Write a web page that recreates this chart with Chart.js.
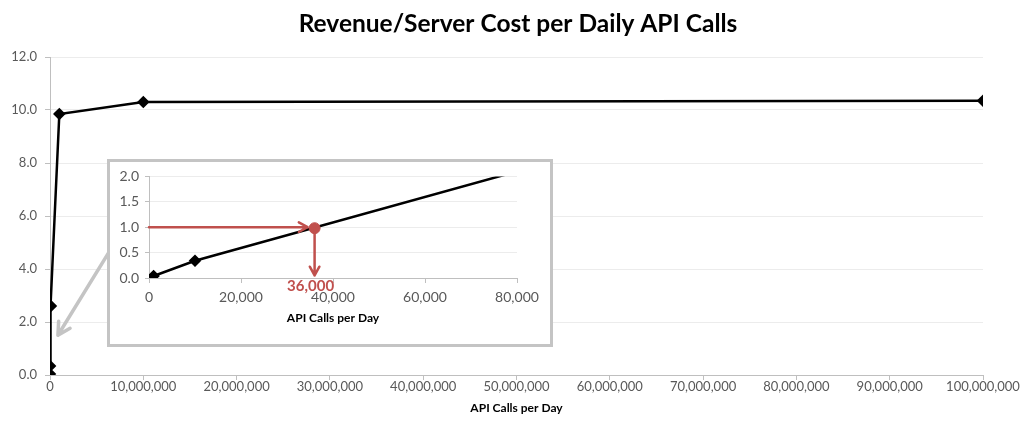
<!DOCTYPE html>
<html>
<head>
<meta charset="utf-8">
<script src="https://cdn.jsdelivr.net/npm/chart.js@4.4.0/dist/chart.umd.min.js"></script>
<style>
html, body { margin: 0; padding: 0; background: #fff; }
#wrap { position: relative; width: 1022px; height: 425px; }
#mainChart { position: absolute; left: 0; top: 0; }
#insetBox { position: absolute; left: 107px; top: 159px; width: 440px; height: 182px;
            border: 3px solid #c4c4c4; background: #fff; }
</style>
</head>
<body>
<div id="wrap">
  <canvas id="mainChart" width="1022" height="425"></canvas>
  <div id="insetBox"><canvas id="insetChart" width="440" height="182"></canvas></div>
</div>
<script>
// --- Data ---
const apiCalls = [1000, 10000, 100000, 1000000, 10000000, 100000000];
const revenueCostRatio = [0.04, 0.34, 2.6, 9.85, 10.3, 10.35];

const mainXTicks = [0, 10000000, 20000000, 30000000, 40000000, 50000000, 60000000, 70000000, 80000000, 90000000, 100000000];
const mainYTicks = [0, 2, 4, 6, 8, 10, 12];
const insetXTicks = [0, 20000, 40000, 60000, 80000];
const insetYTicks = [0, 0.5, 1, 1.5, 2];

const breakEvenCalls = [36000];
const breakEvenRatio = [0.98];
const breakEvenLabel = '36,000';

const chartTitle = 'Revenue/Server Cost per Daily API Calls';
const xTitle = 'API Calls per Day';

// --- Styles ---
const FONT = 'Lato, "Open Sans", sans-serif';
const TICK_COLOR = '#595959';
const AXIS_COLOR = '#bfbfbf';
const GRID_COLOR = '#ececec';
const RED = '#c0504d';

const points = apiCalls.map((x, i) => ({ x: x, y: revenueCostRatio[i] }));
const fmtInt = v => Number(v).toLocaleString('en-US');

function fixedTicks(list) {
    return scale => { scale.ticks = list.map(v => ({ value: v })); };
}

// open "V" arrow head
function drawArrow(ctx, x1, y1, x2, y2, color, width, head) {
    const ang = Math.atan2(y2 - y1, x2 - x1);
    ctx.save();
    ctx.strokeStyle = color;
    ctx.lineWidth = width;
    ctx.lineCap = 'round';
    ctx.lineJoin = 'round';
    ctx.beginPath();
    ctx.moveTo(x1, y1);
    ctx.lineTo(x2, y2);
    ctx.moveTo(x2 - head * Math.cos(ang - 0.5), y2 - head * Math.sin(ang - 0.5));
    ctx.lineTo(x2, y2);
    ctx.lineTo(x2 - head * Math.cos(ang + 0.5), y2 - head * Math.sin(ang + 0.5));
    ctx.stroke();
    ctx.restore();
}

// title is centred on the whole picture, not on the padded chart box
const titlePlugin = {
    id: 'pageTitle',
    afterDraw(chart) {
        const ctx = chart.ctx;
        ctx.save();
        ctx.fillStyle = '#000';
        ctx.font = 'bold 24.5px ' + FONT;
        ctx.textAlign = 'center';
        ctx.textBaseline = 'middle';
        ctx.fillText(chartTitle, 518, 24);
        ctx.restore();
    }
};

// gray pointer from the zoom box to the near-zero region
const pointerPlugin = {
    id: 'pointer',
    afterDatasetsDraw(chart) {
        const xs = chart.scales.x, ys = chart.scales.y;
        drawArrow(chart.ctx,
            xs.getPixelForValue(8000000), ys.getPixelForValue(5.6),
            xs.getPixelForValue(850000), ys.getPixelForValue(1.5),
            '#c4c4c4', 3.5, 14);
    }
};

// red break-even guides in the inset
const breakEvenPlugin = {
    id: 'breakEven',
    afterDatasetsDraw(chart) {
        const xs = chart.scales.x, ys = chart.scales.y, ctx = chart.ctx;
        const px = xs.getPixelForValue(breakEvenCalls[0]);
        const py = ys.getPixelForValue(breakEvenRatio[0]);
        drawArrow(ctx, xs.getPixelForValue(0), ys.getPixelForValue(1), px - 7, ys.getPixelForValue(1), RED, 2.5, 10);
        drawArrow(ctx, px, py, px, ys.getPixelForValue(0.05), RED, 2.5, 10);
        ctx.save();
        ctx.fillStyle = RED;
        ctx.font = 'bold 15px ' + FONT;
        ctx.textAlign = 'center';
        ctx.textBaseline = 'middle';
        ctx.fillText(breakEvenLabel, px - 4, ys.bottom + 8);
        ctx.restore();
    }
};

// --- Main chart ---
new Chart(document.getElementById('mainChart'), {
    type: 'scatter',
    data: {
        datasets: [{
            data: points,
            showLine: true,
            borderColor: '#000',
            borderWidth: 2.5,
            pointStyle: 'rectRot',
            pointRadius: 4.5,
            pointBackgroundColor: '#000',
            pointBorderColor: '#000',
            tension: 0
        }]
    },
    options: {
        responsive: false,
        animation: false,
        events: [],
        layout: { padding: { left: 0, right: 39, top: 57, bottom: 10 } },
        plugins: {
            legend: { display: false },
            tooltip: { enabled: false },
            title: { display: false }
        },
        scales: {
            x: {
                type: 'linear',
                min: 0,
                max: 100000000,
                afterBuildTicks: fixedTicks(mainXTicks),
                afterFit(scale) { scale.height = 40; },
                grid: { drawOnChartArea: false, drawTicks: true, tickLength: 5, color: AXIS_COLOR },
                border: { color: AXIS_COLOR, width: 1 },
                ticks: { color: TICK_COLOR, font: { family: FONT, size: 13 }, padding: -1, maxRotation: 0, callback: fmtInt },
                title: { display: true, text: xTitle, color: '#000', font: { family: FONT, size: 12, weight: 'bold' }, padding: { top: 1, bottom: 0 } }
            },
            y: {
                min: 0,
                max: 12,
                afterBuildTicks: fixedTicks(mainYTicks),
                afterFit(scale) { scale.width = 50; },
                grid: { color: GRID_COLOR, tickLength: 5, tickColor: AXIS_COLOR },
                border: { color: AXIS_COLOR, width: 1 },
                ticks: { color: TICK_COLOR, font: { family: FONT, size: 13 }, padding: 8, callback: v => Number(v).toFixed(1) }
            }
        }
    },
    plugins: [titlePlugin, pointerPlugin]
});

// --- Inset chart (zoom on the low end) ---
new Chart(document.getElementById('insetChart'), {
    type: 'scatter',
    data: {
        datasets: [{
            data: breakEvenCalls.map((x, i) => ({ x: x, y: breakEvenRatio[i] })),
            order: 0,
            pointStyle: 'circle',
            pointRadius: 5.5,
            pointBackgroundColor: RED,
            pointBorderColor: RED
        }, {
            data: points,
            order: 1,
            showLine: true,
            borderColor: '#000',
            borderWidth: 2.5,
            pointStyle: 'rectRot',
            pointRadius: 4.5,
            pointBackgroundColor: '#000',
            pointBorderColor: '#000',
            tension: 0
        }]
    },
    options: {
        responsive: false,
        animation: false,
        events: [],
        layout: { padding: { left: 0, right: 33, top: 14, bottom: 18.8 } },
        plugins: {
            legend: { display: false },
            tooltip: { enabled: false },
            title: { display: false }
        },
        scales: {
            x: {
                type: 'linear',
                min: 0,
                max: 80000,
                afterBuildTicks: fixedTicks(insetXTicks),
                afterFit(scale) { scale.height = 47.2; },
                grid: { drawOnChartArea: false, drawTicks: true, tickLength: 5, color: AXIS_COLOR },
                border: { color: AXIS_COLOR, width: 1 },
                ticks: { color: TICK_COLOR, font: { family: FONT, size: 14 }, padding: 6, maxRotation: 0, callback: fmtInt },
                title: { display: true, text: xTitle, color: '#000', font: { family: FONT, size: 12, weight: 'bold' }, padding: { top: 2, bottom: 0 } }
            },
            y: {
                min: 0,
                max: 2,
                afterBuildTicks: fixedTicks(insetYTicks),
                afterFit(scale) { scale.width = 39; },
                grid: { color: GRID_COLOR, tickLength: 4, tickColor: AXIS_COLOR },
                border: { color: AXIS_COLOR, width: 1 },
                ticks: { color: TICK_COLOR, font: { family: FONT, size: 14 }, padding: 6, callback: v => Number(v).toFixed(1) }
            }
        }
    },
    plugins: [breakEvenPlugin]
});
</script>
</body>
</html>
